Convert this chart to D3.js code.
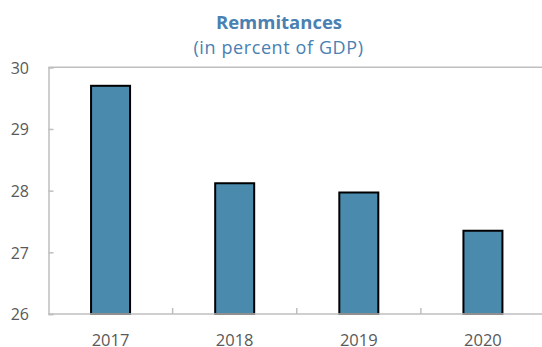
<!DOCTYPE html>
<html>
<head>
<meta charset="utf-8">
<script src="https://cdn.jsdelivr.net/npm/d3@7"></script>
<style>
  html, body { margin: 0; padding: 0; background: #fff; }
  svg { display: block; font-family: "Open Sans", "Noto Sans", sans-serif; }
</style>
</head>
<body>
<svg id="chart" width="542" height="347"></svg>
<script>
// Remittances as a share of GDP
const years = ["2017", "2018", "2019", "2020"];
const remittances = [29.7, 28.12, 27.97, 27.35];
const yTicks = [26, 27, 28, 29, 30];

const titleText = "Remmitances";
const subtitleText = "(in percent of GDP)";

const svg = d3.select("#chart");

const plot = { left: 48.5, right: 545, top: 67.3, bottom: 314 };

const x = d3.scaleBand()
  .domain(years)
  .range([plot.left, plot.right])
  .paddingInner(0)
  .paddingOuter(0);

const y = d3.scaleLinear()
  .domain([26, 30])
  .range([plot.bottom, plot.top]);

const axisGrey = "#bfbfbf";
const textGrey = "#595959";
const blue = "#4a80b2";

// Title
svg.append("text")
  .attr("x", 279).attr("y", 29.3)
  .attr("text-anchor", "middle")
  .attr("font-size", 18.5).attr("font-weight", 700)
  .attr("fill", blue)
  .text(titleText);

svg.append("text")
  .attr("x", 278.5).attr("y", 54.3)
  .attr("text-anchor", "middle")
  .attr("font-size", 18)
  .attr("letter-spacing", 0.6)
  .attr("fill", blue)
  .text(subtitleText);

// Plot area frame (top edge)
svg.append("line")
  .attr("x1", plot.left).attr("x2", plot.right)
  .attr("y1", plot.top).attr("y2", plot.top)
  .attr("stroke", axisGrey).attr("stroke-width", 1.5);

// Bars
svg.append("g")
  .selectAll("rect")
  .data(years.map((yr, i) => ({ yr, v: remittances[i] })))
  .join("rect")
  .attr("x", d => x(d.yr) + x.bandwidth() / 2 - 19.5)
  .attr("width", 39)
  .attr("y", d => y(d.v))
  .attr("height", d => y(26) - y(d.v))
  .attr("fill", "#4a8aad")
  .attr("stroke", "#000")
  .attr("stroke-width", 2);

// Y axis with inward ticks
const yAxis = d3.axisLeft(y)
  .tickValues(yTicks)
  .tickSize(-5)
  .tickPadding(24)
  .tickFormat(d3.format("d"));

const gy = svg.append("g")
  .attr("transform", `translate(${plot.left},0)`)
  .call(yAxis);
gy.select(".domain").attr("stroke", axisGrey).attr("stroke-width", 1.5);
gy.selectAll(".tick line").attr("stroke", axisGrey).attr("stroke-width", 1.5);
gy.selectAll(".tick text")
  .attr("fill", textGrey).attr("font-size", 16)
  .attr("font-family", "'Open Sans', sans-serif")
  .attr("dy", "0.36em")
  .attr("x", -19.5);

// X axis: category boundary ticks pointing up into the plot
svg.append("line")
  .attr("x1", plot.left).attr("x2", plot.right)
  .attr("y1", plot.bottom).attr("y2", plot.bottom)
  .attr("stroke", axisGrey).attr("stroke-width", 1.5);

svg.append("g")
  .selectAll("line")
  .data(years.slice(1))
  .join("line")
  .attr("x1", d => x(d)).attr("x2", d => x(d))
  .attr("y1", plot.bottom).attr("y2", plot.bottom - 6)
  .attr("stroke", axisGrey).attr("stroke-width", 1.5);

svg.append("g")
  .selectAll("text")
  .data(years)
  .join("text")
  .attr("x", d => x(d) + x.bandwidth() / 2)
  .attr("y", 345.5)
  .attr("text-anchor", "middle")
  .attr("font-size", 16.5)
  .attr("fill", textGrey)
  .text(d => d);
</script>
</body>
</html>
